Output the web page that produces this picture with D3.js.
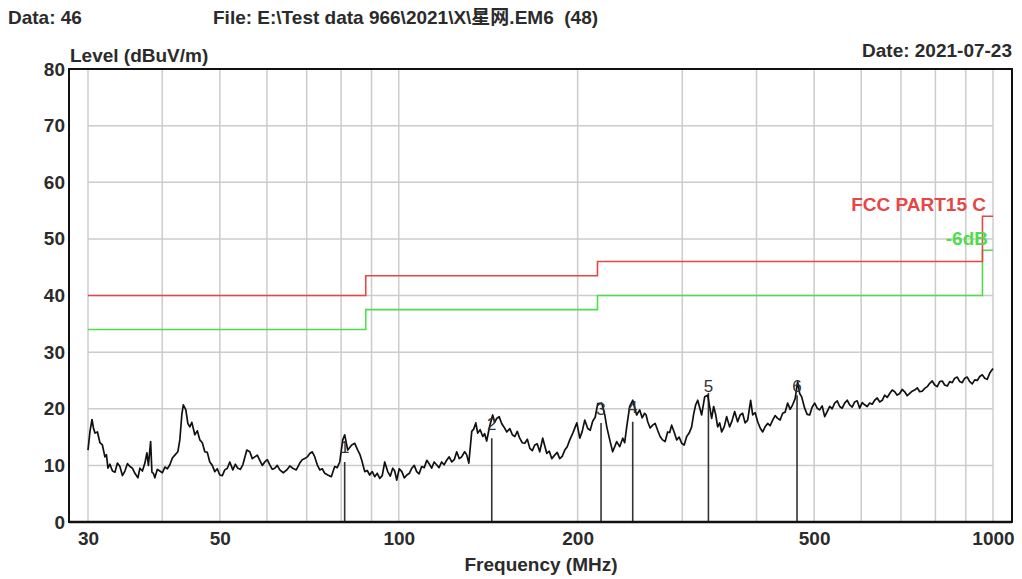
<!DOCTYPE html>
<html>
<head>
<meta charset="utf-8">
<script src="https://cdn.jsdelivr.net/npm/d3@7"></script>
<style>
    body { margin: 0; background: #fff; }
    svg { font-family: "Liberation Sans", Arial, "Noto Sans CJK SC", sans-serif; font-weight: bold; }
</style>
</head>
<body>
<svg id="chart" width="1022" height="579"></svg>
<script>
const traceFreqs = [
    30.0, 30.23, 30.47, 30.64, 30.82, 31.12, 31.42, 31.72, 32.03, 32.22,
    32.41, 32.66, 32.98, 33.30, 33.62, 33.95, 34.28, 34.61, 34.95, 35.29,
    35.63, 35.98, 36.40, 36.68, 37.04, 37.40, 37.69, 37.91, 38.24, 38.43,
    38.65, 38.87, 39.25, 39.63, 40.02, 40.41, 40.80, 41.20, 41.60, 42.00,
    42.49, 42.82, 43.15, 43.40, 43.83, 44.17, 44.51, 44.86, 45.38, 45.82,
    46.27, 46.72, 47.17, 47.63, 48.09, 48.56, 49.03, 49.51, 49.99, 50.48,
    50.97, 51.47, 51.97, 52.58, 53.09, 53.60, 54.13, 54.66, 55.51, 56.15,
    56.70, 57.25, 57.81, 58.37, 58.94, 59.51, 60.09, 60.68, 61.27, 61.86,
    62.46, 63.07, 63.94, 64.81, 65.57, 66.33, 67.24, 68.15, 68.81, 69.48,
    70.16, 70.84, 71.53, 72.23, 72.93, 73.64, 74.36, 75.08, 75.96, 77.0,
    78.04, 78.80, 79.57, 80.50, 81.12, 82.07, 83.35, 84.33, 85.31, 85.98,
    86.65, 87.66, 88.51, 89.37, 90.24, 91.12, 92.01, 92.90, 93.81, 94.72,
    95.82, 96.76, 97.70, 98.46, 99.23, 100.2, 101.2, 102.2, 103.2, 104.2,
    105.2, 106.2, 107.2, 108.2, 109.3, 110.4, 111.5, 112.5, 113.6, 114.7,
    115.8, 116.9, 118.1, 119.2, 120.4, 121.6, 122.8, 124.0, 125.2, 126.4,
    127.6, 129.1, 130.1, 131.2, 132.7, 133.7, 134.8, 135.8, 137.1, 138.5,
    139.5, 140.6, 142.3, 143.9, 145.0, 146.2, 147.6, 149.0, 150.5, 152.0,
    153.8, 155.3, 156.8, 158.3, 159.8, 161.4, 163.0, 164.6, 166.2, 167.8,
    169.4, 171.0, 172.7, 174.7, 177.5, 179.2, 180.9, 183.0, 184.8, 186.6,
    188.4, 190.3, 192.1, 194.0, 196.3, 199.4, 201.7, 203.6, 205.6, 208.0,
    210.0, 212.0, 214.1, 216.2, 219.6, 222.2, 223.9, 226.5, 229.1, 232.7,
    235.4, 238.2, 240.0, 241.9, 244.7, 247.6, 251.4, 254.4, 256.8, 259.3,
    260.8, 262.4, 264.9, 267.5, 270.1, 272.7, 275.3, 278.0, 280.7, 283.5,
    285.7, 287.9, 290.7, 293.6, 296.4, 299.3, 302.2, 305.2, 308.1, 311.1,
    313.5, 316.0, 318.5, 323.4, 327.2, 331.0, 336.2, 338.8, 341.4, 344.1,
    346.8, 349.5, 352.9, 356.3, 360.4, 363.9, 367.5, 371.8, 375.4, 379.0,
    382.7, 386.5, 391.0, 394.1, 397.9, 401.8, 405.7, 409.6, 413.6, 417.6,
    421.7, 425.8, 429.9, 434.1, 438.3, 442.6, 446.9, 451.3, 455.7, 460.1,
    464.6, 469.1, 472.8, 476.5, 482.0, 486.7, 491.5, 496.3, 501.1, 506.0,
    510.9, 515.9, 520.9, 526.0, 531.1, 536.3, 541.5, 546.8, 552.1, 557.5,
    562.9, 568.4, 573.9, 579.5, 585.1, 590.8, 596.6, 602.4, 608.2, 614.2,
    620.2, 626.2, 632.3, 638.5, 644.7, 651.0, 657.3, 663.7, 670.1, 676.7,
    683.3, 690.0, 696.6, 703.4, 710.3, 717.2, 724.2, 731.2, 738.3, 745.5,
    752.8, 760.1, 767.5, 775.0, 782.6, 790.2, 797.9, 805.7, 813.5, 821.4,
    829.4, 837.5, 845.7, 853.9, 862.2, 870.6, 879.1, 887.7, 896.3, 905.0,
    913.8, 922.7, 931.7, 940.8, 950.0, 959.3, 968.6, 978.0, 987.5, 1000
];
const traceLevels = [
    12.7, 16.0, 18.1, 16.6, 15.7, 15.9, 14.0, 13.6, 11.5, 11.9,
    9.5, 10.2, 9.0, 8.8, 10.4, 9.8, 8.2, 9.0, 10.3, 9.8,
    9.5, 8.6, 7.8, 9.5, 9.0, 10.4, 12.2, 10.0, 14.2, 8.8,
    8.6, 7.8, 9.3, 9.0, 8.7, 9.7, 9.4, 10.1, 11.3, 11.8,
    12.4, 14.5, 18.9, 20.7, 19.8, 17.4, 16.8, 17.6, 15.4, 16.1,
    14.5, 14.0, 12.4, 12.3, 10.6, 10.0, 8.9, 9.4, 8.3, 8.2,
    9.2, 9.5, 10.6, 9.2, 10.2, 9.5, 9.3, 10.1, 12.7, 12.4,
    11.2, 11.5, 11.8, 10.9, 10.0, 10.6, 11.0, 10.1, 9.3, 9.5,
    10.0, 9.2, 8.7, 9.2, 9.9, 9.5, 9.2, 10.4, 11.0, 11.2,
    11.5, 12.1, 12.4, 11.5, 10.1, 9.2, 9.4, 8.6, 8.3, 8.0,
    9.8, 9.6, 10.6, 14.5, 15.4, 12.7, 13.6, 13.9, 12.7, 12.0,
    10.9, 8.9, 9.1, 8.3, 8.9, 8.0, 8.6, 7.7, 8.2, 10.6,
    8.9, 8.1, 9.5, 9.0, 7.4, 9.4, 8.9, 7.8, 8.3, 8.6,
    9.5, 10.0, 8.9, 8.5, 9.8, 9.6, 10.9, 10.3, 9.5, 10.6,
    10.1, 9.6, 10.6, 10.1, 10.9, 11.5, 10.6, 11.0, 12.4, 11.2,
    11.5, 12.4, 11.9, 10.4, 16.0, 16.4, 17.5, 15.7, 16.3, 15.1,
    15.6, 14.3, 17.0, 18.9, 17.6, 18.3, 18.6, 17.4, 16.7, 15.9,
    16.5, 15.4, 15.1, 16.0, 14.8, 14.0, 13.9, 14.6, 13.0, 12.6,
    13.6, 13.8, 12.4, 14.8, 12.1, 12.5, 11.2, 11.8, 12.3, 11.2,
    11.6, 12.7, 13.3, 14.5, 15.7, 17.5, 14.8, 16.0, 18.0, 16.5,
    16.2, 17.8, 18.5, 20.9, 21.0, 18.9, 16.8, 14.5, 12.4, 14.2,
    13.3, 14.8, 14.0, 16.8, 20.4, 21.5, 18.9, 19.8, 18.4, 19.2,
    18.9, 17.7, 16.6, 17.1, 17.4, 16.2, 15.1, 14.5, 14.2, 15.9,
    15.8, 17.1, 15.9, 14.5, 15.0, 13.9, 13.6, 15.1, 15.7, 16.8,
    19.0, 20.7, 21.5, 18.9, 22.1, 22.4, 18.3, 20.4, 19.0, 16.8,
    17.5, 15.9, 16.8, 18.6, 16.8, 17.9, 19.5, 17.7, 18.9, 19.2,
    17.5, 18.0, 21.5, 18.9, 19.3, 17.7, 16.6, 15.9, 16.8, 17.4,
    17.0, 18.0, 18.8, 18.3, 18.0, 19.2, 19.4, 21.0, 19.9, 20.7,
    21.8, 24.8, 22.7, 22.1, 20.1, 19.0, 18.9, 20.3, 21.0, 20.1,
    19.8, 20.5, 18.6, 19.5, 20.4, 20.0, 21.0, 21.4, 20.4, 20.1,
    21.0, 21.5, 20.7, 20.3, 21.2, 21.4, 20.1, 21.1, 20.7, 20.4,
    21.0, 20.8, 21.5, 21.9, 21.2, 21.5, 22.4, 22.0, 22.7, 23.3,
    23.0, 22.4, 22.7, 23.4, 23.0, 22.3, 22.7, 23.1, 23.3, 23.7,
    23.0, 23.1, 23.6, 23.9, 24.5, 24.9, 24.2, 23.9, 24.8, 24.9,
    24.2, 24.0, 24.8, 24.6, 25.4, 25.6, 24.8, 24.6, 25.4, 25.6,
    24.8, 24.4, 25.1, 25.0, 25.7, 26.0, 25.4, 25.2, 26.3, 27.1
];

// FCC Part 15 C limit and the -6 dB margin line
const limitFreqs = [30, 88, 216, 960, 1000];
const limitLevels = [40, 43.5, 46, 54, 54];
const marginLevels = [34, 37.5, 40, 48, 48];

// marker readings
const markerFreqs = [81.1, 143.4, 219.0, 247.6, 332.0, 468.0];
const markerLevels = [10.6, 14.8, 17.5, 17.7, 22.8, 22.4];
const markerPeaks = [12.2, 16.2, 18.9, 19.3, 23.0, 22.9];

const yTicks = [0, 10, 20, 30, 40, 50, 60, 70, 80];
const xTicks = [30, 50, 100, 200, 500, 1000];
const xGrid = [30, 40, 50, 60, 70, 80, 90, 100, 200, 300, 400, 500, 600, 700, 800, 900, 1000];

const frame = {left: 69, right: 1012, top: 69, bottom: 522};
const textColor = '#2b2b2b';

const svg = d3.select('#chart');

const x = d3.scaleLog().domain([30, 1000]).range([88, 993]);
const y = d3.scaleLinear().domain([0, 80]).range([frame.bottom, frame.top]);

// grid
const grid = svg.append('g').attr('class', 'grid')
    .attr('stroke', '#cccccc').attr('stroke-width', 1.5);
grid.selectAll('.vgrid').data(xGrid).enter().append('line')
    .attr('class', 'vgrid')
    .attr('x1', d => x(d)).attr('x2', d => x(d))
    .attr('y1', frame.top).attr('y2', frame.bottom);
grid.selectAll('.hgrid').data(yTicks.slice(1, -1)).enter().append('line')
    .attr('class', 'hgrid')
    .attr('x1', x(30)).attr('x2', x(1000))
    .attr('y1', d => y(d)).attr('y2', d => y(d));

// limit lines
const stepLine = d3.line().curve(d3.curveStepAfter)
    .x(d => x(d[0])).y(d => y(d[1]));
svg.append('path')
    .datum(d3.zip(limitFreqs, marginLevels))
    .attr('fill', 'none').attr('stroke', '#4fdc4f').attr('stroke-width', 1.6)
    .attr('d', stepLine);
svg.append('path')
    .datum(d3.zip(limitFreqs, limitLevels))
    .attr('fill', 'none').attr('stroke', '#e64646').attr('stroke-width', 1.6)
    .attr('d', stepLine);

// markers
svg.selectAll('.marker').data(d3.range(markerFreqs.length)).enter().append('line')
    .attr('class', 'marker')
    .attr('x1', i => x(markerFreqs[i])).attr('x2', i => x(markerFreqs[i]))
    .attr('y1', y(0)).attr('y2', i => y(markerLevels[i]))
    .attr('stroke', '#333').attr('stroke-width', 1.6);

// trace
const traceLine = d3.line().x(d => x(d[0])).y(d => y(d[1]));
svg.append('path')
    .datum(d3.zip(traceFreqs, traceLevels))
    .attr('fill', 'none').attr('stroke', '#111').attr('stroke-width', 1.7)
    .attr('stroke-linejoin', 'round')
    .attr('d', traceLine);

svg.selectAll('.marker-label').data(d3.range(markerFreqs.length)).enter().append('text')
    .attr('class', 'marker-label')
    .attr('x', i => x(markerFreqs[i])).attr('y', i => y(markerPeaks[i]))
    .attr('text-anchor', 'middle')
    .attr('font-size', 17).attr('font-weight', 'normal')
    .attr('fill', '#333')
    .text(i => i + 1);

// frame
svg.append('rect')
    .attr('x', frame.left).attr('y', frame.top)
    .attr('width', frame.right - frame.left).attr('height', frame.bottom - frame.top)
    .attr('fill', 'none').attr('stroke', '#111').attr('stroke-width', 2);
svg.append('line')
    .attr('x1', frame.left).attr('x2', frame.right)
    .attr('y1', frame.bottom).attr('y2', frame.bottom)
    .attr('stroke', '#111').attr('stroke-width', 2.5);

// axes (labels only)
const yAxis = svg.append('g')
    .attr('transform', `translate(${frame.left}, 0)`)
    .call(d3.axisLeft(y).tickValues(yTicks).tickSize(0).tickPadding(4));
const xAxis = svg.append('g')
    .attr('transform', `translate(0, ${frame.bottom})`)
    .call(d3.axisBottom(x).tickValues(xTicks).tickFormat(d3.format('d')).tickSize(0).tickPadding(10));
[yAxis, xAxis].forEach(a => {
    a.attr('font-family', null).attr('font-size', null);
    a.select('.domain').remove();
    a.selectAll('text').attr('font-size', 19).attr('fill', textColor);
});

// legend
svg.append('text')
    .attr('x', 986).attr('y', 211).attr('text-anchor', 'end')
    .attr('font-size', 19).attr('fill', '#e64646')
    .text('FCC PART15 C');
svg.append('text')
    .attr('x', 988).attr('y', 245).attr('text-anchor', 'end')
    .attr('font-size', 19).attr('fill', '#4fdc4f')
    .text('-6dB');

// titles
const titles = [
    {text: 'Data: 46', x: 8, y: 24, anchor: 'start'},
    {text: 'File: E:\\Test data 966\\2021\\X\\星网.EM6  (48)', x: 213, y: 24, anchor: 'start'},
    {text: 'Level (dBuV/m)', x: 70, y: 62, anchor: 'start'},
    {text: 'Date: 2021-07-23', x: 1012, y: 57, anchor: 'end'},
    {text: 'Frequency (MHz)', x: 541, y: 571, anchor: 'middle'}
];
svg.selectAll('.title').data(titles).enter().append('text')
    .attr('class', 'title')
    .attr('x', d => d.x).attr('y', d => d.y)
    .attr('text-anchor', d => d.anchor)
    .attr('font-size', 19).attr('fill', textColor)
    .style('white-space', 'pre')
    .text(d => d.text);
</script>
</body>
</html>
